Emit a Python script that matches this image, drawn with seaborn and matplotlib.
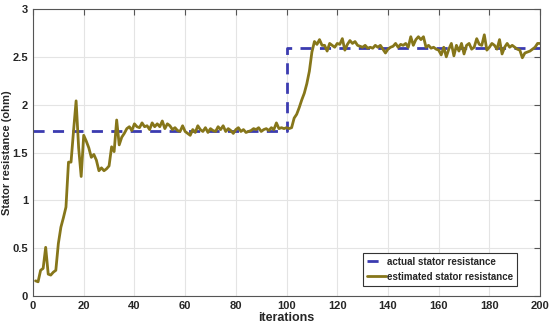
import numpy as np
import pandas as pd
import seaborn as sns
import matplotlib.pyplot as plt

# actual (reference) stator resistance: step at iteration 100
actual_x = [0, 100, 200]
actual_r = [1.73, 2.59, 2.59]

# estimated stator resistance, iterations 1..200
est_r = [
    0.16, 0.15, 0.27, 0.29, 0.51, 0.23, 0.22, 0.25, 0.27, 0.55,
    0.72, 0.82, 0.93, 1.40, 1.40, 1.73, 2.04, 1.55, 1.25, 1.68,
    1.62, 1.55, 1.45, 1.48, 1.42, 1.31, 1.34, 1.31, 1.33, 1.36,
    1.56, 1.51, 1.84, 1.58, 1.66, 1.70, 1.75, 1.77, 1.73, 1.80,
    1.77, 1.76, 1.81, 1.77, 1.78, 1.74, 1.81, 1.77, 1.80, 1.77,
    1.83, 1.75, 1.80, 1.78, 1.74, 1.76, 1.73, 1.72, 1.78, 1.72,
    1.70, 1.68, 1.74, 1.71, 1.78, 1.74, 1.72, 1.76, 1.71, 1.75,
    1.73, 1.72, 1.77, 1.74, 1.78, 1.72, 1.75, 1.73, 1.70, 1.74,
    1.76, 1.72, 1.74, 1.71, 1.72, 1.73, 1.75, 1.74, 1.76, 1.72,
    1.74, 1.75, 1.73, 1.76, 1.74, 1.81, 1.75, 1.76, 1.75, 1.76,
    1.75, 1.76, 1.86, 1.90, 1.97, 2.05, 2.12, 2.22, 2.35, 2.55,
    2.66, 2.63, 2.68, 2.62, 2.62, 2.56, 2.64, 2.62, 2.60, 2.64,
    2.63, 2.69, 2.57, 2.63, 2.67, 2.64, 2.66, 2.62, 2.61, 2.60,
    2.62, 2.59, 2.60, 2.59, 2.62, 2.60, 2.62, 2.58, 2.54, 2.58,
    2.60, 2.61, 2.64, 2.60, 2.63, 2.62, 2.64, 2.60, 2.71, 2.62,
    2.68, 2.71, 2.68, 2.71, 2.60, 2.62, 2.59, 2.60, 2.58, 2.57,
    2.52, 2.60, 2.50, 2.58, 2.64, 2.51, 2.62, 2.56, 2.64, 2.53,
    2.62, 2.64, 2.58, 2.60, 2.69, 2.63, 2.62, 2.73, 2.57, 2.60,
    2.64, 2.62, 2.58, 2.68, 2.53, 2.60, 2.64, 2.60, 2.62, 2.60,
    2.58, 2.57, 2.49, 2.54, 2.55, 2.56, 2.58, 2.60, 2.64, 2.64,
]
iterations = list(range(1, len(est_r) + 1))

x_ticks = list(range(0, 201, 20))
y_ticks = [0, 0.5, 1, 1.5, 2, 2.5, 3]
y_tick_labels = ['0', '0.5', '1', '1.5', '2', '2.5', '3']

sns.set_style('whitegrid')
plt.rcParams['font.family'] = ['Liberation Sans', 'DejaVu Sans']
plt.rcParams['font.weight'] = 'bold'

fig = plt.figure(figsize=(5.5, 3.32), dpi=100)
ax = fig.add_axes([0.06, 0.108, 0.922, 0.865])

actual_df = pd.DataFrame({'iter': actual_x, 'r': actual_r})
est_df = pd.DataFrame({'iter': iterations, 'r': est_r})

sns.lineplot(data=actual_df, x='iter', y='r', ax=ax, color='#3b3bb0',
             linewidth=2, drawstyle='steps-post', dashes=False,
             label='actual stator resistance')
ax.lines[-1].set_dashes((4, 3))
sns.lineplot(data=est_df, x='iter', y='r', ax=ax, color='#86761a',
             linewidth=2, label='estimated stator resistance')

ax.set_xlim(0, 200)
ax.set_ylim(0, 3)
ax.set_xticks(x_ticks)
ax.set_yticks(y_ticks)
ax.set_yticklabels(y_tick_labels)
ax.tick_params(axis='both', direction='in', labelsize=8, top=True, right=True,
               length=4, color='#555555', pad=3.5)
for lab in ax.get_xticklabels() + ax.get_yticklabels():
    lab.set_fontweight('bold')
ax.grid(True, color='#e4e4e4', linewidth=0.8)
for s in ax.spines.values():
    s.set_color('#555555')
    s.set_linewidth(0.8)

ax.set_xlabel('iterations', fontsize=9, fontweight='bold', labelpad=1)
ax.set_ylabel('Stator resistance (ohm)', fontsize=8, fontweight='bold')
ax.yaxis.set_label_coords(-0.041, 0.5)

leg = ax.legend(loc='lower right', bbox_to_anchor=(0.965, 0.02), fontsize=7,
                frameon=True, fancybox=False, framealpha=1, edgecolor='#333333',
                handlelength=2.0, handletextpad=0.15, borderpad=0.4, labelspacing=0.5)
leg.get_frame().set_linewidth(0.8)
for t in leg.get_texts():
    t.set_fontweight('bold')

fig.savefig('out.png', dpi=100)
